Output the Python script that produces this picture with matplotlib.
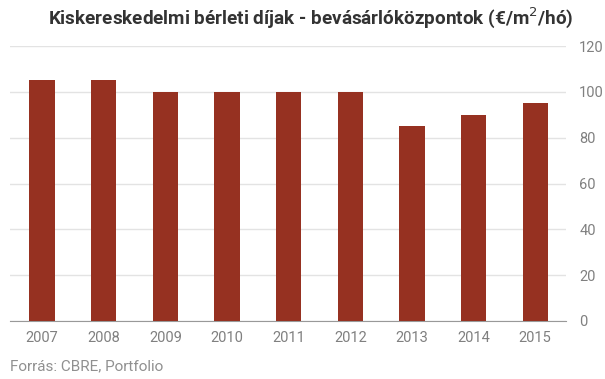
import matplotlib
matplotlib.use("Agg")
import matplotlib.pyplot as plt

years = ["2007", "2008", "2009", "2010", "2011", "2012", "2013", "2014", "2015"]
values = [105, 105, 100, 100, 100, 100, 85, 90, 95]
yticks = [0, 20, 40, 60, 80, 100, 120]

plt.rcParams['font.family'] = ['Roboto', 'DejaVu Sans']

fig = plt.figure(figsize=(6.05, 3.79), dpi=100)
ax = fig.add_axes([10/605, 58/379, 556/605, 275/379])

x = range(len(years))
ax.bar(x, values, width=0.41, color="#963121", zorder=3)
ax.set_xlim(-0.52, 8.5)
ax.set_ylim(0, 120)
ax.set_yticks(yticks)
ax.set_xticks(list(x))
ax.set_xticklabels(years)
ax.yaxis.tick_right()
ax.grid(axis="y", color="#e3e3e3", linewidth=1, zorder=0)
for s in ["top", "left", "right"]:
    ax.spines[s].set_visible(False)
ax.spines["bottom"].set_color("#999999")
ax.tick_params(axis="both", length=0, labelsize=10.5, labelcolor="#808080")
ax.tick_params(axis="y", pad=9.5)
ax.tick_params(axis="x", pad=7)

fig.text(311/605, 1 - 18/379, "Kiskereskedelmi bérleti díjak - bevásárlóközpontok (€/m$^2$/hó)",
         ha="center", va="center", fontsize=13.6, fontweight="bold", color="#333333")
fig.text(10/605, 1 - 366/379, "Forrás: CBRE, Portfolio", ha="left", va="center",
         fontsize=11, color="#909090")

fig.savefig("out.png", dpi=100)
